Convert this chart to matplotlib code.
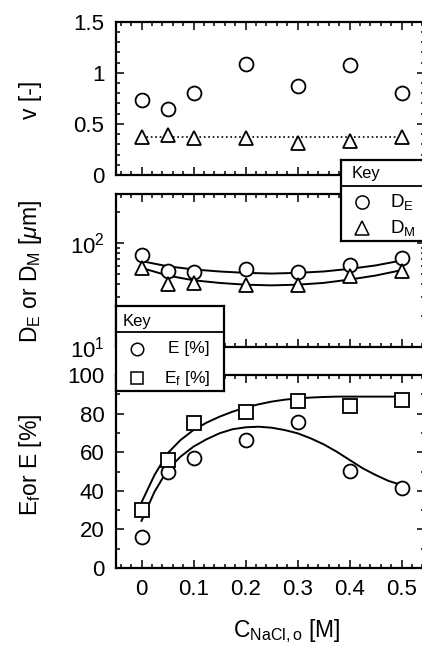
import numpy as np
import matplotlib
matplotlib.use("Agg")
import matplotlib.pyplot as plt
from matplotlib.ticker import (FixedLocator, MultipleLocator, FormatStrFormatter,
                               NullFormatter, LogLocator)

plt.rcParams["font.family"] = ["Liberation Sans", "DejaVu Sans"]
plt.rcParams["mathtext.fontset"] = "custom"
plt.rcParams["mathtext.rm"] = "Liberation Sans"
plt.rcParams["mathtext.it"] = "Liberation Sans:italic"
plt.rcParams["mathtext.bf"] = "Liberation Sans:bold"

# ---- data ----
conc = [0, 0.05, 0.1, 0.2, 0.3, 0.4, 0.5]          # C_NaCl,o [M]

v_E = [0.73, 0.65, 0.80, 1.09, 0.87, 1.08, 0.80]   # v for D_E
v_M = [0.372, 0.391, 0.365, 0.365, 0.313, 0.336, 0.369]
v_M_mean = 0.375                                    # dotted reference line

D_E = [76.9, 53.7, 53.0, 55.9, 53.0, 61.5, 71.4]    # um
D_M = [57.9, 40.8, 41.4, 39.3, 39.3, 48.1, 53.7]

E = [16.2, 49.9, 56.8, 66.3, 75.8, 50.3, 41.3]      # %
Ef = [30.0, 56.0, 75.0, 80.7, 86.5, 84.1, 87.0]

# fitted curves as drawn in the figure
fit_x_D = [0, 0.05, 0.1, 0.15, 0.2, 0.25, 0.3, 0.35, 0.4, 0.45, 0.5]
fit_DE = [67.3, 60.0, 55.9, 53.4, 51.8, 51.0, 51.8, 53.4, 56.6, 61.1, 68.2]
fit_DM = [57.9, 48.8, 43.9, 41.4, 39.8, 39.2, 39.8, 41.4, 44.6, 48.8, 55.0]

fit_x_E = [0, 0.025, 0.05, 0.075, 0.1, 0.125, 0.15, 0.175, 0.2, 0.225, 0.25,
           0.275, 0.3, 0.325, 0.35, 0.375, 0.4, 0.425, 0.45, 0.475, 0.5]
fit_E = [24.4, 39.5, 50.8, 57.7, 62.9, 66.7, 69.8, 71.9, 72.9, 73.2, 72.7,
         71.5, 69.8, 67.2, 64.1, 60.3, 56.0, 51.7, 48.2, 45.1, 43.0]
fit_Ef = [34.0, 48.2, 59.4, 66.3, 71.5, 75.3, 78.4, 81.0, 83.1, 84.8, 86.2,
          87.2, 87.9, 88.3, 88.6, 88.8, 88.8, 88.8, 88.8, 88.8, 88.8]

W, H = 422, 650


def rect(x0, y0, x1, y1):
    """pixel box (top-left origin) -> figure fraction [l, b, w, h]"""
    return [x0 / W, 1 - y1 / H, (x1 - x0) / W, (y1 - y0) / H]


def style(ax):
    ax.set_xlim(-0.05, 0.545)
    ax.xaxis.set_major_locator(MultipleLocator(0.1))
    ax.xaxis.set_minor_locator(MultipleLocator(0.02))
    ax.xaxis.set_major_formatter(FormatStrFormatter("%g"))
    ax.tick_params(which="both", direction="in", top=True, right=True,
                   width=1.1, labelsize=16, pad=8)
    ax.tick_params(which="major", length=5.5)
    ax.tick_params(which="minor", length=3)
    for s in ax.spines.values():
        s.set_linewidth(1.6)


mk = dict(ls="", ms=10, mfc="white", mec="k", mew=1.3, zorder=4)

fig = plt.figure(figsize=(W / 100, H / 100), dpi=100)

# ---- top: v ----
ax_v = fig.add_axes(rect(115.5, 21.7, 425, 175))
style(ax_v)
ax_v.plot([conc[0], conc[-1]], [v_M_mean, v_M_mean], "k:", lw=1.2, zorder=2)
ax_v.plot(conc, v_E, marker="o", **mk)
ax_v.plot(conc, v_M, marker="^", **mk)
ax_v.set_ylim(0, 1.5)
ax_v.yaxis.set_major_locator(FixedLocator([0, 0.5, 1, 1.5]))
ax_v.yaxis.set_minor_locator(MultipleLocator(0.1))
ax_v.yaxis.set_major_formatter(FormatStrFormatter("%g"))
ax_v.tick_params(labelbottom=False)

# ---- middle: D_E / D_M ----
ax_d = fig.add_axes(rect(115.5, 194, 425, 346.7))
style(ax_d)
ax_d.set_yscale("log")
ax_d.plot(fit_x_D, fit_DE, "k-", lw=1.4, zorder=3)
ax_d.plot(fit_x_D, fit_DM, "k-", lw=1.4, zorder=3)
ax_d.plot(conc, D_E, marker="o", **mk)
ax_d.plot(conc, D_M, marker="^", **mk)
ax_d.set_ylim(10, 300)
ax_d.yaxis.set_major_locator(LogLocator(base=10))
ax_d.yaxis.set_minor_locator(LogLocator(base=10, subs=np.arange(2, 10)))
ax_d.yaxis.set_minor_formatter(NullFormatter())
ax_d.tick_params(labelbottom=False)

# ---- bottom: E / Ef ----
ax_e = fig.add_axes(rect(115.5, 375, 425, 568))
style(ax_e)
ax_e.plot(fit_x_E, fit_E, "k-", lw=1.4, zorder=3)
ax_e.plot(fit_x_E, fit_Ef, "k-", lw=1.4, zorder=3)
ax_e.plot(conc, E, marker="o", **mk)
ax_e.plot(conc, Ef, marker="s", **dict(mk, ms=9.6, zorder=5))
ax_e.set_ylim(0, 100)
ax_e.yaxis.set_major_locator(MultipleLocator(20))
ax_e.yaxis.set_minor_locator(MultipleLocator(10))

# axis labels
fig.text(30 / W, 1 - 100 / H, "v [-]", rotation=90, ha="center", va="center",
         fontsize=16.5)
fig.text(30 / W, 1 - 272 / H,
         r"D$_\mathregular{E}$ or D$_\mathregular{M}$ [$\mu$m]",
         rotation=90, ha="center", va="center", fontsize=16.5)
fig.text(30 / W, 1 - 465 / H, r"E$_\mathregular{f}$or E [%]",
         rotation=90, ha="center", va="center", fontsize=16.5)
fig.text(287 / W, 1 - 631 / H, r"C$_\mathregular{NaCl,o}$ [M]",
         ha="center", va="center", fontsize=16.5)


def key_box(x0, y0, x1, y1, head_y, key_xy, entries):
    kx = fig.add_axes(rect(x0, y0, x1, y1))
    kx.set_xlim(x0, x1)
    kx.set_ylim(y1, y0)
    kx.set_xticks([])
    kx.set_yticks([])
    for s in kx.spines.values():
        s.set_linewidth(1.6)
    kx.axhline(head_y, color="k", lw=1.3)
    kx.text(key_xy[0], key_xy[1], "Key", ha="left", va="center", fontsize=12)
    for marker, ms, mx, my, label, tx, ha, fs in entries:
        kx.plot([mx], [my], marker=marker, ls="", ms=ms, mfc="white",
                mec="k", mew=1.1, clip_on=False)
        kx.text(tx, my, label, ha=ha, va="center", fontsize=fs)


key_box(340.7, 160, 432, 241, 185.5, (351.7, 173.5), [
    ("o", 9.5, 361.7, 201.7, r"D$_\mathregular{E}$", 390, "left", 13.5),
    ("^", 9.5, 361.7, 228.3, r"D$_\mathregular{M}$", 390, "left", 13.5),
])
key_box(115.5, 306, 224, 390.7, 332.3, (122.7, 321.5), [
    ("o", 9.0, 136.7, 349, "E [%]", 210, "right", 12.5),
    ("s", 8.0, 136.7, 378, r"E$_\mathregular{f}$ [%]", 210, "right", 12.5),
])

fig.savefig("out.png", dpi=100)
